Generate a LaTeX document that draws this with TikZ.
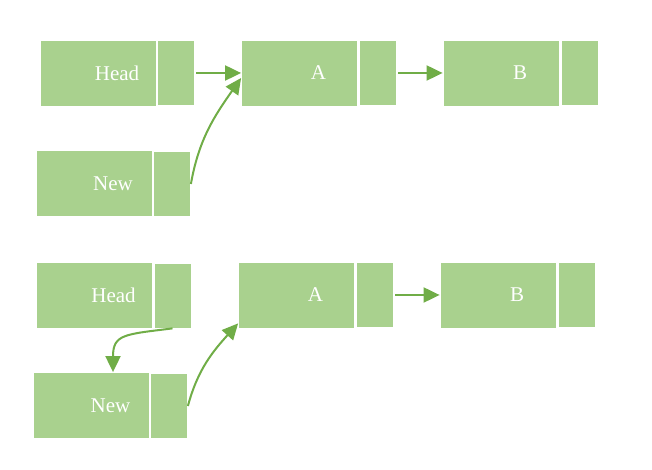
\documentclass[tikz,border=0pt]{standalone}
\usepackage{fontspec}
\setmainfont{Liberation Serif}
\usetikzlibrary{arrows.meta}
\definecolor{boxg}{HTML}{A9D18E}
\definecolor{arrg}{HTML}{70AD47}
\begin{document}
\begin{tikzpicture}[x=1pt,y=1pt,
  big/.style={rectangle, fill=boxg, draw=white, line width=0.8pt, minimum width=116pt, minimum height=66pt, inner sep=0pt, text=white, font=\fontsize{21}{24}\selectfont},
  small/.style={rectangle, fill=boxg, draw=white, line width=0.8pt, minimum width=37pt, minimum height=65pt, inner sep=0pt},
  arr/.style={draw=arrg, line width=2pt, -{Triangle[length=16pt,width=15pt]}}]
\useasboundingbox (0,0) rectangle (652,470);
% top
\node[big] (h1) at (98,397) {\hspace*{38pt}Head};
\node[small] (hs1) at (175.5,397) {};
\node[big] (a1) at (299.5,397) {\hspace*{38pt}A};
\node[small] (as1) at (377.5,397) {};
\node[big] (b1) at (501,397) {\hspace*{38pt}B};
\node[small] (bs1) at (579.5,397) {};
\node[big] (n1) at (94,286.5) {\hspace*{38pt}New};
\node[small] (ns1) at (172,286) {};
% bottom
\node[big] (h2) at (94.5,175) {\hspace*{38pt}Head};
\node[small] (hs2) at (172.5,174.5) {};
\node[big] (a2) at (296.5,175) {\hspace*{38pt}A};
\node[small] (as2) at (374.5,175) {};
\node[big] (b2) at (498,175) {\hspace*{38pt}B};
\node[small] (bs2) at (576.5,175) {};
\node[big] (n2) at (91.5,64.5) {\hspace*{38pt}New};
\node[small] (ns2) at (169,64) {};
% arrows top
\draw[arr, shorten <=2pt] (hs1.east) -- (a1.west);
\draw[arr] (ns1.east) to[out=80, in=235] ([yshift=-5pt]a1.west);
\draw[arr, shorten <=2pt] (as1.east) -- (b1.west);
% arrows bottom
\draw[arr] (hs2.south) .. controls +(-48,-6) and +(0,38) .. ([xshift=21.5pt]n2.north);
\draw[arr] (ns2.east) to[out=75, in=228] ([yshift=5pt]a2.south west);
\draw[arr, shorten <=2pt] (as2.east) -- (b2.west);
\end{tikzpicture}
\end{document}
